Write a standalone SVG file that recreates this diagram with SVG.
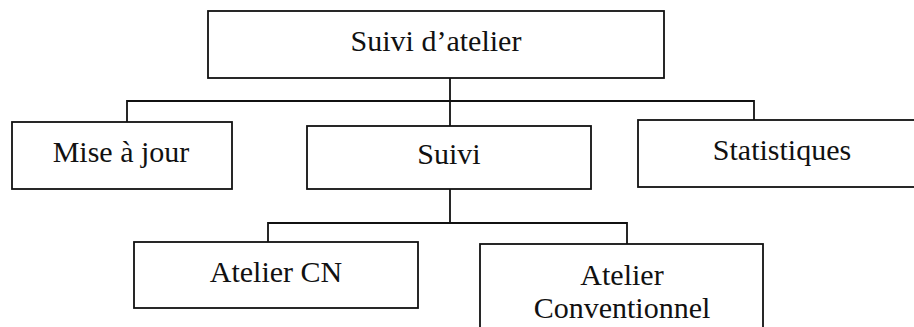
<svg xmlns="http://www.w3.org/2000/svg" width="914" height="327" viewBox="0 0 914 327">
<style>
.box{fill:#fff;stroke:#111;stroke-width:1.8}
.con{fill:none;stroke:#111;stroke-width:1.8}
text{font-family:"Liberation Serif","Times New Roman",serif;font-size:30px;fill:#111;text-anchor:middle}
</style>
<rect width="914" height="327" fill="#fff"/>
<g id="connectors">
<path class="con" d="M450 78 V126 M127 122 V101 H754 V120 M450 189 V223 M268 242 V223 H627 V244"/>
</g>
<g id="n-suivi-atelier">
<rect class="box" x="208" y="11" width="456" height="67"/>
<text x="436" y="51">Suivi d’atelier</text>
</g>
<g id="n-mise-a-jour">
<rect class="box" x="12" y="122" width="220" height="67"/>
<text x="121" y="162">Mise à jour</text>
</g>
<g id="n-suivi">
<rect class="box" x="307" y="126" width="284" height="63"/>
<text x="449" y="164">Suivi</text>
</g>
<g id="n-statistiques">
<rect class="box" x="638" y="120" width="300" height="67"/>
<text x="782" y="160">Statistiques</text>
</g>
<g id="n-atelier-cn">
<rect class="box" x="134" y="242" width="284" height="66"/>
<text x="276" y="282">Atelier CN</text>
</g>
<g id="n-atelier-conv">
<rect class="box" x="480" y="244" width="283" height="100"/>
<text x="622" y="285">Atelier</text>
<text x="622" y="318">Conventionnel</text>
</g>
</svg>
